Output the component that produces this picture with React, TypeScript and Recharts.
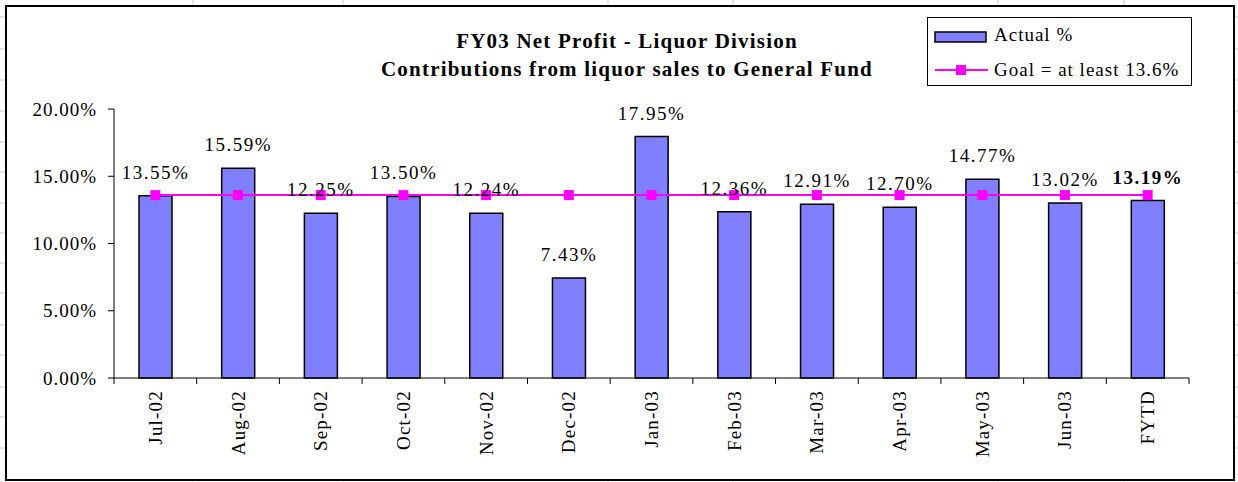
import { ComposedChart, Bar, Line, XAxis, YAxis, LabelList } from "recharts"

const categories = ["Jul-02", "Aug-02", "Sep-02", "Oct-02", "Nov-02", "Dec-02", "Jan-03", "Feb-03", "Mar-03", "Apr-03", "May-03", "Jun-03", "FYTD"]
const actual = [13.55, 15.59, 12.25, 13.5, 12.24, 7.43, 17.95, 12.36, 12.91, 12.7, 14.77, 13.02, 13.19]
const goal = [13.6, 13.6, 13.6, 13.6, 13.6, 13.6, 13.6, 13.6, 13.6, 13.6, 13.6, 13.6, 13.6]
const yTicks = [0, 5, 10, 15, 20]

const data = categories.map((month, i) => ({ month, actual: actual[i], goal: goal[i] }))

// spreadsheet cells behind the chart
const sheetRows = [17, 49, 80, 111, 142, 172, 203, 233, 263, 293, 325, 355, 387, 417, 448]
const sheetCols = [193, 343, 608, 733, 998, 1124]

const FONT = '"Liberation Serif", "Times New Roman", serif'
const W = 1238
const H = 482
const PLOT_LEFT = 114
const PLOT_RIGHT = 1189
const PLOT_BOTTOM = 378
const BAND = (PLOT_RIGHT - PLOT_LEFT) / categories.length

function XTick(props: any) {
  const { x, payload, index } = props
  return (
    <g>
      <line x1={x - BAND / 2} x2={x - BAND / 2} y1={PLOT_BOTTOM} y2={PLOT_BOTTOM + 6} stroke="#000" />
      {index === categories.length - 1 && (
        <line x1={x + BAND / 2} x2={x + BAND / 2} y1={PLOT_BOTTOM} y2={PLOT_BOTTOM + 6} stroke="#000" />
      )}
      <text
        transform={`translate(${x},${PLOT_BOTTOM + 12}) rotate(-90)`}
        textAnchor="end"
        dominantBaseline="central"
        fontFamily={FONT}
        fontSize={19}
        letterSpacing={1.2}
        fill="#000"
      >
        {payload.value}
      </text>
    </g>
  )
}

function BarLabel(props: any) {
  const { x, y, width, value, index } = props
  const last = index === categories.length - 1
  return (
    <text
      x={x + width / 2}
      y={y - 17}
      textAnchor="middle"
      fontFamily={FONT}
      fontSize={19}
      fontWeight={last ? "bold" : "normal"}
      letterSpacing={1.5}
      fill="#000"
    >
      {Number(value).toFixed(2)}%
    </text>
  )
}

function GoalDot(props: any) {
  const { cx, cy } = props
  return <rect x={cx - 5} y={cy - 5} width={10} height={10} fill="#FF00FF" />
}

function LegendBox() {
  return (
    <div
      style={{
        position: "absolute",
        left: 927,
        top: 17,
        width: 263,
        height: 67,
        border: "1px solid #000",
        background: "#fff",
        fontFamily: FONT,
        fontSize: 19,
        letterSpacing: 1,
      }}
    >
      <svg width={60} height={67} style={{ position: "absolute", left: 0, top: 0 }}>
        <rect x={7} y={14} width={51} height={10} fill="#8080FF" stroke="#000" strokeWidth={1.5} />
        <line x1={7} x2={60} y1={52} y2={52} stroke="#FF00FF" strokeWidth={2} />
        <rect x={28} y={47} width={10} height={10} fill="#FF00FF" />
      </svg>
      <div style={{ position: "absolute", left: 66, top: 6 }}>Actual %</div>
      <div style={{ position: "absolute", left: 66, top: 41 }}>Goal = at least 13.6%</div>
    </div>
  )
}

export default function App() {
  return (
    <div style={{ position: "absolute", left: 0, top: 0, width: W, height: H, background: "#fff" }}>
      <svg width={W} height={H} style={{ position: "absolute", left: 0, top: 0 }}>
        {sheetRows.map((y) => (
          <line key={"r" + y} x1={0} x2={W} y1={y} y2={y} stroke="#c8c8c8" />
        ))}
        {sheetCols.map((x) => (
          <line key={"c" + x} x1={x} x2={x} y1={0} y2={H} stroke="#c8c8c8" />
        ))}
      </svg>
      <div
        style={{
          position: "absolute",
          left: 5,
          top: 5,
          width: 1226,
          height: 472,
          border: "2px solid #000",
          background: "#fff",
        }}
      />
      <div
        style={{
          position: "absolute",
          left: 327,
          top: 27,
          width: 600,
          textAlign: "center",
          fontFamily: FONT,
          fontWeight: "bold",
          fontSize: 21,
          lineHeight: "28px",
          letterSpacing: 1.2,
        }}
      >
        FY03 Net Profit - Liquor Division
        <br />
        Contributions from liquor sales to General Fund
      </div>
      <div style={{ position: "absolute", left: 0, top: 0 }}>
        <ComposedChart width={W} height={H} data={data} margin={{ top: 109, right: W - PLOT_RIGHT, bottom: 24, left: 14 }}>
          <XAxis
            dataKey="month"
            interval={0}
            height={80}
            tickLine={false}
            axisLine={{ stroke: "#000" }}
            tick={<XTick />}
          />
          <YAxis
            width={100}
            domain={[0, 20]}
            ticks={yTicks}
            tickFormatter={(v: number) => v.toFixed(2) + "%"}
            axisLine={{ stroke: "#000" }}
            tickLine={{ stroke: "#000" }}
            tickSize={6}
            tickMargin={11}
            tick={{ fontFamily: FONT, fontSize: 19, fill: "#000", letterSpacing: 1 }}
          />
          <Bar dataKey="actual" barSize={33} fill="#8080FF" stroke="#000" strokeWidth={1.5} isAnimationActive={false}>
            <LabelList dataKey="actual" content={<BarLabel />} />
          </Bar>
          <Line
            dataKey="goal"
            stroke="#FF00FF"
            strokeWidth={2}
            dot={<GoalDot />}
            activeDot={false}
            isAnimationActive={false}
          />
        </ComposedChart>
      </div>
      <LegendBox />
    </div>
  )
}
